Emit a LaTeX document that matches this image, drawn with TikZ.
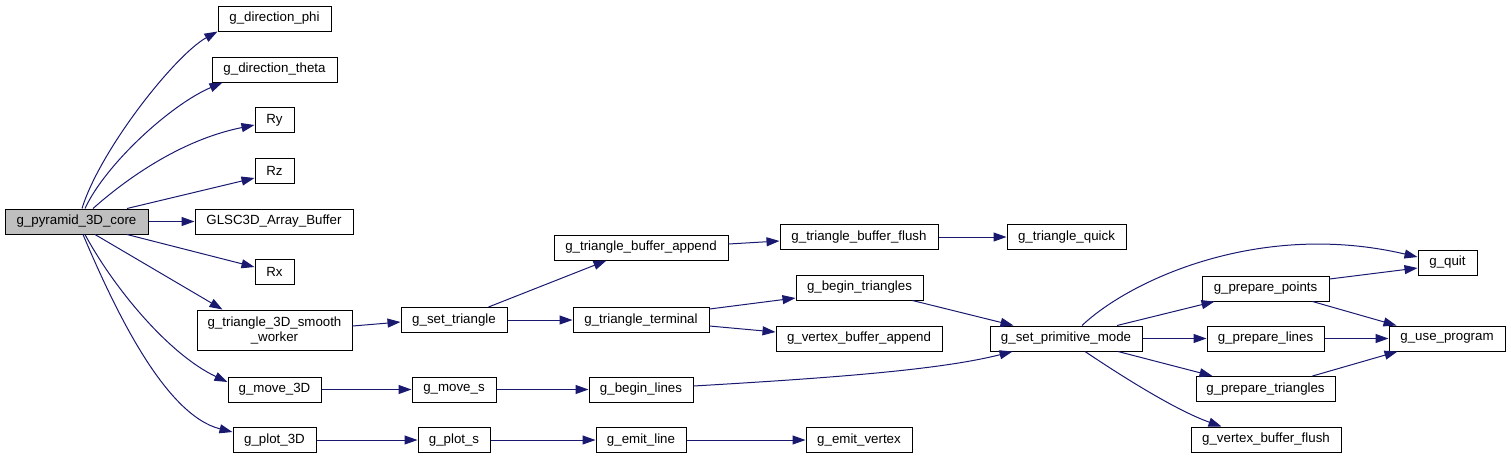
\documentclass[tikz,border=0pt]{standalone}
\usepackage{fontspec}
\setmainfont{Liberation Sans}
\usepackage{xcolor}
\usepackage{tikz}
\usetikzlibrary{arrows.meta,calc}
\definecolor{edgeblue}{HTML}{191970}

\begin{document}
\begin{tikzpicture}[x=1pt,y=-1pt,
    box/.style={draw=black,line width=1pt,fill=white,align=center,inner sep=0pt,minimum height=25pt,font=\fontsize{13.3}{15}\selectfont},
    arr/.style={-{Triangle[length=13pt,width=9pt]},draw=edgeblue,line width=1pt}
  ]
    \useasboundingbox (0,0) rectangle (1511,459);
    % caller
    \node[box,fill=gray!50,minimum width=143pt] (core) at (76.5,221.5) {g\_pyramid\_3D\_core};
    % first column
    \node[box,minimum width=113pt] (phi) at (274.5,18.5) {g\_direction\_phi};
    \node[box,minimum width=125pt] (theta) at (274.5,69.5) {g\_direction\_theta};
    \node[box,minimum width=39pt] (ry) at (274.5,120) {Ry};
    \node[box,minimum width=39pt] (rz) at (274.5,170.5) {Rz};
    \node[box,minimum width=158pt] (glsc) at (274,221.5) {GLSC3D\_Array\_Buffer};
    \node[box,minimum width=39pt] (rx) at (274.5,271.5) {Rx};
    \node[box,minimum width=155pt,minimum height=40pt] (worker) at (274.5,330) {g\_triangle\_3D\_smooth\\\_worker};
    \node[box,minimum width=93pt] (move3d) at (274.5,389.5) {g\_move\_3D};
    \node[box,minimum width=83pt] (plot3d) at (274.5,440) {g\_plot\_3D};
    % second column
    \node[box,minimum width=106pt] (stri) at (454,320) {g\_set\_triangle};
    \node[box,minimum width=84pt] (moves) at (454,389.5) {g\_move\_s};
    \node[box,minimum width=72pt] (plots) at (454,440) {g\_plot\_s};
    % third column
    \node[box,minimum width=174pt] (bappend) at (641,247.5) {g\_triangle\_buffer\_append};
    \node[box,minimum width=136pt] (term) at (641,320) {g\_triangle\_terminal};
    \node[box,minimum width=104pt] (blines) at (641,389.5) {g\_begin\_lines};
    \node[box,minimum width=90pt] (eline) at (641,440) {g\_emit\_line};
    % fourth column
    \node[box,minimum width=158pt] (bflush) at (859,237) {g\_triangle\_buffer\_flush};
    \node[box,minimum width=127pt] (btri) at (859.5,287.5) {g\_begin\_triangles};
    \node[box,minimum width=166pt] (vappend) at (859,338.5) {g\_vertex\_buffer\_append};
    \node[box,minimum width=106pt] (evertex) at (859,440) {g\_emit\_vertex};
    % fifth column
    \node[box,minimum width=119pt] (quick) at (1066.5,237) {g\_triangle\_quick};
    \node[box,minimum width=152pt] (spm) at (1066,338.5) {g\_set\_primitive\_mode};
    % sixth column
    \node[box,minimum width=127pt] (ppoints) at (1265.5,288.5) {g\_prepare\_points};
    \node[box,minimum width=117pt] (plines) at (1265.5,338.5) {g\_prepare\_lines};
    \node[box,minimum width=139pt] (ptri) at (1265.5,389) {g\_prepare\_triangles};
    \node[box,minimum width=150pt] (vflush) at (1266,439.5) {g\_vertex\_buffer\_flush};
    % last column
    \node[box,minimum width=59pt] (quit) at (1447.5,262.5) {g\_quit};
    \node[box,minimum width=116pt] (useprog) at (1447,338.5) {g\_use\_program};

    % calls from the caller
    \draw[arr] ([xshift=5.5pt]core.north) .. controls (100,150) and (175,55) .. (phi.south west);
    \draw[arr] ([xshift=8.5pt]core.north) .. controls (105,165) and (170,105) .. ([xshift=11pt]theta.south west);
    \draw[arr] ([xshift=16.5pt]core.north) .. controls (125,180) and (180,140) .. ([yshift=-5pt]ry.west);
    \draw[arr] ([xshift=50.5pt]core.north) -- ([yshift=-7.5pt]rz.west);
    \draw[arr] (core) -- (glsc);
    \draw[arr] ([xshift=50.5pt]core.south) -- ([yshift=4.5pt]rx.west);
    \draw[arr] ([xshift=18.5pt]core.south) -- ([xshift=26pt]worker.north west);
    \draw[arr] ([xshift=8.5pt]core.south) .. controls (115,290) and (170,355) .. ([yshift=7.5pt]move3d.west);
    \draw[arr] ([xshift=6.5pt]core.south) .. controls (115,310) and (165,415) .. ([yshift=8pt]plot3d.west);

    % triangle branch
    \draw[arr] ([yshift=4pt]worker.east) -- ([yshift=-2pt]stri.west);
    \draw[arr] ([xshift=-19pt]stri.north east) -- ([xshift=53pt]bappend.south west);
    \draw[arr] (stri) -- (term);
    \draw[arr] ([yshift=3.5pt]bappend.east) -- ([yshift=-4pt]bflush.west);
    \draw[arr] (bflush) -- (quick);
    \draw[arr] ([yshift=11pt]term.east) -- ([yshift=-10.5pt]btri.west);
    \draw[arr] ([yshift=-6pt]term.east) -- ([yshift=6.5pt]vappend.west);
    \draw[arr] ([xshift=-11pt]btri.south east) -- ([xshift=24pt]spm.north west);

    % line and plot branches
    \draw[arr] (move3d) -- (moves);
    \draw[arr] (moves) -- (blines);
    \draw[arr] ([yshift=3.5pt]blines.east) .. controls (830,378) and (940,370) .. ([xshift=23pt]spm.south west);
    \draw[arr] (plot3d) -- (plots);
    \draw[arr] (plots) -- (eline);
    \draw[arr] (eline) -- (evertex);

    % primitive mode
    \draw[arr] ([xshift=16pt]spm.north) .. controls (1130,280) and (1260,220) .. ([yshift=5.5pt]quit.west);
    \draw[arr] ([xshift=51pt]spm.north) -- ([xshift=13pt]ppoints.south west);
    \draw[arr] (spm) -- (plines);
    \draw[arr] ([xshift=52pt]spm.south) -- ([xshift=17pt]ptri.north west);
    \draw[arr] ([xshift=19pt]spm.south) .. controls (1120,375) and (1175,410) .. ([xshift=31pt]vflush.north west);
    \draw[arr] ([yshift=9.5pt]ppoints.east) -- ([yshift=-5.5pt]quit.west);
    \draw[arr] ([xshift=-17pt]ppoints.south east) -- ([xshift=8pt]useprog.north west);
    \draw[arr] (plines) -- (useprog);
    \draw[arr] ([xshift=-23pt]ptri.north east) -- ([xshift=9pt]useprog.south west);
  \end{tikzpicture}
\end{document}
